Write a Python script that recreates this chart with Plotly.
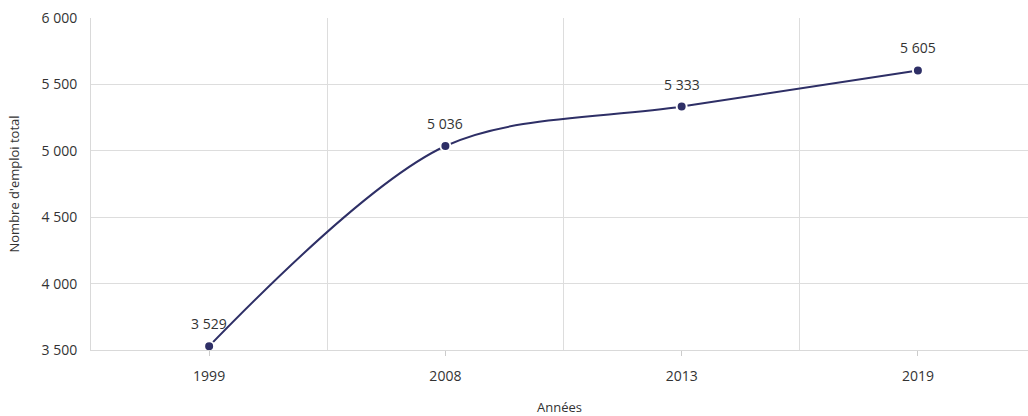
import plotly.graph_objects as go

years = ["1999", "2008", "2013", "2019"]
emplois = [3529, 5036, 5333, 5605]
y_ticks = [3500, 4000, 4500, 5000, 5500, 6000]

def fmt(v):
    return f"{v:,}".replace(",", " ")

labels = [fmt(v) for v in emplois]
xpos = list(range(len(years)))

fig = go.Figure()
fig.add_trace(go.Scatter(
    x=xpos, y=emplois, mode="lines+markers",
    line=dict(color="#2e2f66", width=2, shape="spline", smoothing=0.9),
    marker=dict(color="#2e2f66", size=10, line=dict(color="white", width=2)),
    cliponaxis=False, hoverinfo="skip", showlegend=False,
))
for xi, yi, lab in zip(xpos, emplois, labels):
    fig.add_annotation(
        x=xi, y=yi, text=lab, showarrow=False,
        yanchor="bottom", yshift=11,
        font=dict(size=14, color="#333333"),
    )

fig.update_layout(
    width=1028, height=416,
    margin=dict(l=91, r=0, t=18, b=66),
    paper_bgcolor="white", plot_bgcolor="white",
    font=dict(family="Open Sans, sans-serif", size=14, color="#333333"),
)
fig.update_xaxes(
    range=[-0.5, 3.466],
    tickvals=xpos, ticktext=years,
    showgrid=False, zeroline=False,
    ticks="outside", ticklen=5, tickcolor="#cccccc",
    tickfont=dict(size=14, color="#333333"),
    ticklabelstandoff=8,
    showline=True, linecolor="#d9d9d9", linewidth=1,
    minor=dict(tick0=0.5, dtick=1, showgrid=True, gridcolor="#dddddd", gridwidth=1, ticks=""),
    title=dict(text="Années", font=dict(size=13, color="#333333"), standoff=22),
)
fig.update_yaxes(
    range=[3500, 6000],
    tickvals=y_ticks, ticktext=[fmt(v) for v in y_ticks],
    showgrid=True, gridcolor="#dddddd", gridwidth=1,
    zeroline=False,
    showline=True, linecolor="#d9d9d9", linewidth=1,
    tickfont=dict(size=14, color="#333333"),
    ticks="", ticklabelstandoff=10,
    title=dict(text="Nombre d'emploi total", font=dict(size=13, color="#333333"), standoff=18),
)

fig.write_html("out.html")
